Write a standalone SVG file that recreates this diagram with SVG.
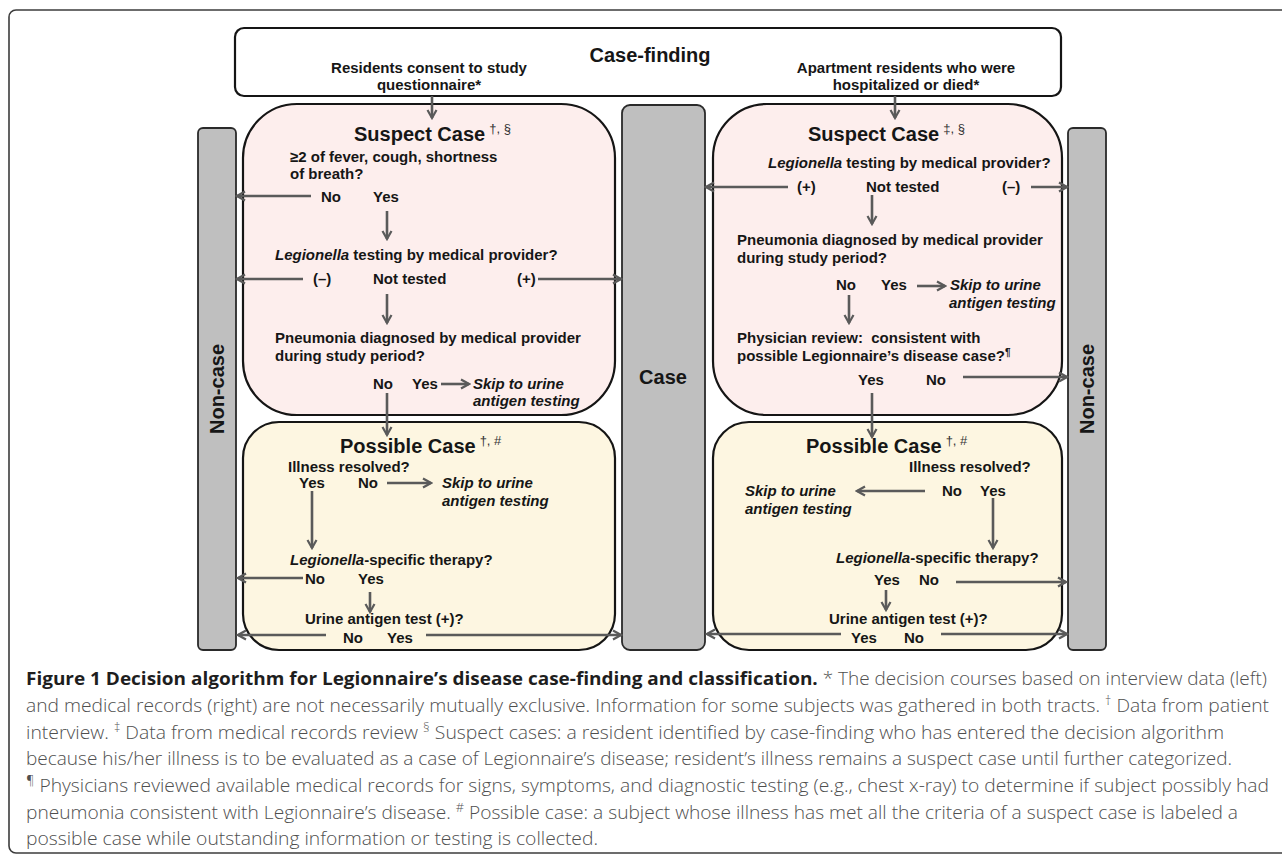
<svg xmlns="http://www.w3.org/2000/svg" width="1282" height="855" viewBox="0 0 1282 855">
<style>
.t{font-family:"Liberation Sans",Arial,sans-serif;font-size:15px;font-weight:bold;fill:#161616}
.i{font-style:italic}
.h{font-family:"Liberation Sans",Arial,sans-serif;font-size:20px;font-weight:bold;fill:#161616}
.sup{font-family:"Liberation Sans",Arial,sans-serif;font-size:13px;font-weight:normal;fill:#333}
.sus{fill:#fdeeed;stroke:#151515;stroke-width:2.2}
.pos{fill:#fdf6e1;stroke:#151515;stroke-width:2.2}
.bar{fill:#bfbfbf;stroke:#2a2a2a;stroke-width:1.8}
.cf{fill:#fff;stroke:#151515;stroke-width:2.2}
.c{stroke:#5a5a5a;stroke-width:2.6;fill:none;marker-end:url(#ah)}
.cap{font-family:"Open Sans","Noto Sans",sans-serif;font-size:18px;font-weight:300;fill:#4f4f4f}
.capb{font-weight:bold;fill:#1e1e1e}
.capsup{font-size:12px}
</style>
<defs>
<marker id="ah" markerUnits="userSpaceOnUse" markerWidth="12" markerHeight="12" viewBox="0 0 12 12" refX="10" refY="6" orient="auto">
<path d="M2,1.5 L10,6 L2,10.5" fill="none" stroke="#5a5a5a" stroke-width="2.2"/>
</marker>
</defs>
<rect width="1282" height="855" fill="#fff"/>
<rect id="frame" x="9" y="10" width="1300" height="843" rx="7" fill="none" stroke="#3c3c3c" stroke-width="1.6"/>

<g id="case-finding">
<rect class="cf" x="235" y="28" width="826" height="68" rx="9"/>
<text class="h" x="650" y="62" text-anchor="middle">Case-finding</text>
<text class="t" x="429" y="73" text-anchor="middle">Residents consent to study</text>
<text class="t" x="429" y="90" text-anchor="middle">questionnaire*</text>
<text class="t" x="906" y="73" text-anchor="middle">Apartment residents who were</text>
<text class="t" x="906" y="90" text-anchor="middle">hospitalized or died*</text>
</g>

<g id="noncase-left">
<rect class="bar" x="198" y="128" width="38" height="522" rx="5"/>
<text class="h" transform="translate(224,389) rotate(-90)" text-anchor="middle">Non-case</text>
</g>
<g id="case-center">
<rect class="bar" x="622" y="105" width="83" height="545" rx="8"/>
<text class="h" x="663" y="384" text-anchor="middle">Case</text>
</g>
<g id="noncase-right">
<rect class="bar" x="1068" y="128" width="38" height="522" rx="5"/>
<text class="h" transform="translate(1094,389) rotate(-90)" text-anchor="middle">Non-case</text>
</g>

<g id="suspect-left">
<rect class="sus" x="243" y="104" width="372" height="311" rx="54"/>
<text class="h" x="354" y="141">Suspect Case<tspan class="sup" dx="4" dy="-8">†, §</tspan></text>
<text class="t" x="290" y="162">≥2 of fever, cough, shortness</text>
<text class="t" x="290" y="179">of breath?</text>
<text class="t" x="321" y="202">No</text>
<text class="t" x="373" y="202">Yes</text>
<text class="t" x="275" y="260"><tspan class="i">Legionella</tspan> testing by medical provider?</text>
<text class="t" x="313" y="284">(–)</text>
<text class="t" x="373" y="284">Not tested</text>
<text class="t" x="517" y="284">(+)</text>
<text class="t" x="275" y="343">Pneumonia diagnosed by medical provider</text>
<text class="t" x="275" y="361">during study period?</text>
<text class="t" x="373" y="389">No</text>
<text class="t" x="412" y="389">Yes</text>
<text class="t i" x="473" y="389">Skip to urine</text>
<text class="t i" x="473" y="406">antigen testing</text>
</g>

<g id="suspect-right">
<rect class="sus" x="713" y="104" width="349" height="311" rx="54"/>
<text class="h" x="808" y="141">Suspect Case<tspan class="sup" dx="4" dy="-8">‡, §</tspan></text>
<text class="t" x="768" y="168"><tspan class="i">Legionella</tspan> testing by medical provider?</text>
<text class="t" x="797" y="192">(+)</text>
<text class="t" x="866" y="192">Not tested</text>
<text class="t" x="1002" y="192">(–)</text>
<text class="t" x="737" y="245">Pneumonia diagnosed by medical provider</text>
<text class="t" x="737" y="263">during study period?</text>
<text class="t" x="836" y="290">No</text>
<text class="t" x="881" y="290">Yes</text>
<text class="t i" x="950" y="290">Skip to urine</text>
<text class="t i" x="949" y="308">antigen testing</text>
<text class="t" x="737" y="343">Physician review:&#160; consistent with</text>
<text class="t" x="737" y="361">possible Legionnaire’s disease case?<tspan font-size="10" dy="-5">¶</tspan></text>
<text class="t" x="858" y="385">Yes</text>
<text class="t" x="926" y="385">No</text>
</g>

<g id="possible-left">
<rect class="pos" x="243" y="422" width="372" height="228" rx="36"/>
<text class="h" x="340" y="453">Possible Case<tspan class="sup" dx="4" dy="-8">†, #</tspan></text>
<text class="t" x="288" y="472">Illness resolved?</text>
<text class="t" x="299" y="488">Yes</text>
<text class="t" x="358" y="488">No</text>
<text class="t i" x="442" y="488">Skip to urine</text>
<text class="t i" x="442" y="506">antigen testing</text>
<text class="t" x="290" y="565"><tspan class="i">Legionella</tspan>-specific therapy?</text>
<text class="t" x="305" y="584">No</text>
<text class="t" x="358" y="584">Yes</text>
<text class="t" x="305" y="624">Urine antigen test (+)?</text>
<text class="t" x="343" y="643">No</text>
<text class="t" x="387" y="643">Yes</text>
</g>

<g id="possible-right">
<rect class="pos" x="713" y="422" width="349" height="228" rx="36"/>
<text class="h" x="806" y="453">Possible Case<tspan class="sup" dx="4" dy="-8">†, #</tspan></text>
<text class="t" x="909" y="472">Illness resolved?</text>
<text class="t" x="942" y="496">No</text>
<text class="t" x="980" y="496">Yes</text>
<text class="t i" x="745" y="496">Skip to urine</text>
<text class="t i" x="745" y="514">antigen testing</text>
<text class="t" x="836" y="563"><tspan class="i">Legionella</tspan>-specific therapy?</text>
<text class="t" x="874" y="585">Yes</text>
<text class="t" x="919" y="585">No</text>
<text class="t" x="829" y="624">Urine antigen test (+)?</text>
<text class="t" x="851" y="643">Yes</text>
<text class="t" x="904" y="643">No</text>
</g>

<g id="connectors">
<path class="c" d="M432,96 V118"/>
<path class="c" d="M311,196 H237"/>
<path class="c" d="M387,211 V239"/>
<path class="c" d="M303,279 H237"/>
<path class="c" d="M538,279 H621"/>
<path class="c" d="M387,294 V323"/>
<path class="c" d="M441,384 H469"/>
<path class="c" d="M387,393 V435"/>
<path class="c" d="M387,483 H431"/>
<path class="c" d="M312,491 V548"/>
<path class="c" d="M303,578 H238"/>
<path class="c" d="M370,592 V612"/>
<path class="c" d="M326,635 H238"/>
<path class="c" d="M426,635 H621"/>
<path class="c" d="M895,96 V118"/>
<path class="c" d="M788,187 H706"/>
<path class="c" d="M1031,187 H1067"/>
<path class="c" d="M872,195 V224"/>
<path class="c" d="M917,286 H945"/>
<path class="c" d="M849,295 V323"/>
<path class="c" d="M963,377 H1067"/>
<path class="c" d="M872,393 V437"/>
<path class="c" d="M925,491 H857"/>
<path class="c" d="M993,498 V548"/>
<path class="c" d="M956,582 H1066"/>
<path class="c" d="M886,590 V610"/>
<path class="c" d="M841,634 H707"/>
<path class="c" d="M941,634 H1067"/>
</g>

<g id="caption">
<text class="cap" x="26" y="685" textLength="1241" lengthAdjust="spacingAndGlyphs"><tspan class="capb">Figure 1 Decision algorithm for Legionnaire’s disease case-finding and classification.</tspan> * The decision courses based on interview data (left)</text>
<text class="cap" x="26" y="712" textLength="1243" lengthAdjust="spacingAndGlyphs">and medical records (right) are not necessarily mutually exclusive. Information for some subjects was gathered in both tracts. <tspan class="capsup" dy="-7">†</tspan><tspan dy="7"> Data from patient</tspan></text>
<text class="cap" x="26" y="739" textLength="1198" lengthAdjust="spacingAndGlyphs">interview. <tspan class="capsup" dy="-7">‡</tspan><tspan dy="7"> Data from medical records review </tspan><tspan class="capsup" dy="-7">§</tspan><tspan dy="7"> Suspect cases: a resident identified by case-finding who has entered the decision algorithm</tspan></text>
<text class="cap" x="26" y="765" textLength="1206" lengthAdjust="spacingAndGlyphs">because his/her illness is to be evaluated as a case of Legionnaire’s disease; resident’s illness remains a suspect case until further categorized.</text>
<text class="cap" x="26" y="792" textLength="1243" lengthAdjust="spacingAndGlyphs"><tspan class="capsup" dy="-7">¶</tspan><tspan dy="7"> Physicians reviewed available medical records for signs, symptoms, and diagnostic testing (e.g., chest x-ray) to determine if subject possibly had</tspan></text>
<text class="cap" x="26" y="819" textLength="1212" lengthAdjust="spacingAndGlyphs">pneumonia consistent with Legionnaire’s disease. <tspan class="capsup" dy="-7">#</tspan><tspan dy="7"> Possible case: a subject whose illness has met all the criteria of a suspect case is labeled a</tspan></text>
<text class="cap" x="26" y="845" textLength="572" lengthAdjust="spacingAndGlyphs">possible case while outstanding information or testing is collected.</text>
</g>
</svg>
